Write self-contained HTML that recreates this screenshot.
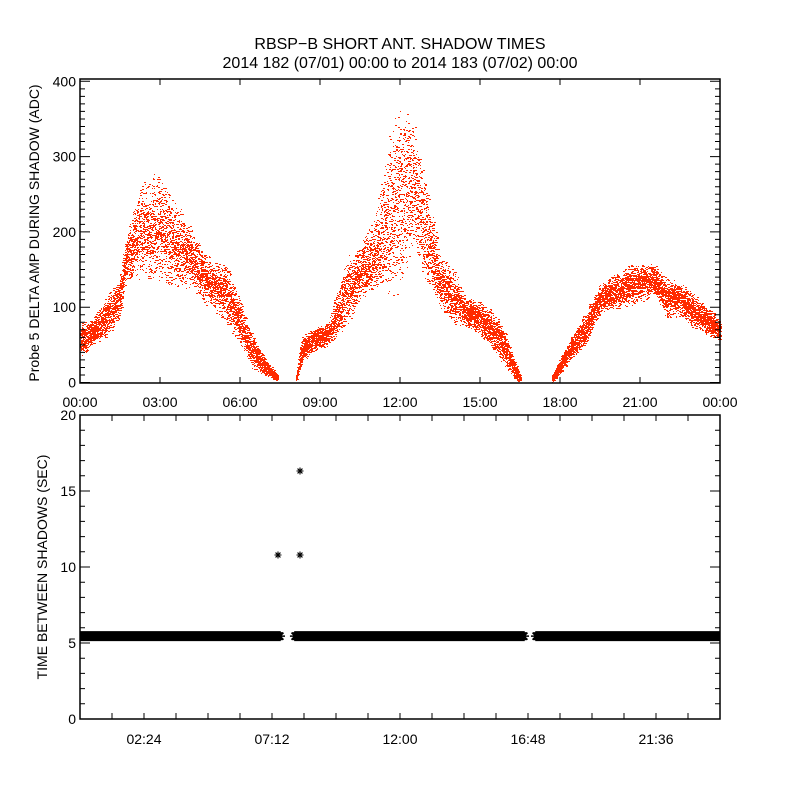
<!DOCTYPE html>
<html><head><meta charset="utf-8"><style>
html,body{margin:0;padding:0;background:#fff;}
svg{display:block;font-family:"Liberation Sans",sans-serif;}
text{fill:#000;}
</style></head><body>
<svg id="chart" width="800" height="800" viewBox="0 0 800 800">
<defs><clipPath id="botClip"><rect x="80" y="415" width="640" height="304"/></clipPath></defs>
<rect x="0" y="0" width="800" height="800" fill="#fff"/>
<text x="400" y="49" text-anchor="middle" font-size="16">RBSP−B SHORT ANT. SHADOW TIMES</text>
<text x="400" y="68" text-anchor="middle" font-size="16">2014 182 (07/01) 00:00 to 2014 183 (07/02) 00:00</text>
<g id="topPanel"></g>
<g id="botPanel"></g>
<text transform="translate(39,233) rotate(-90)" text-anchor="middle" font-size="14">Probe 5 DELTA AMP DURING SHADOW (ADC)</text>
<text transform="translate(47,567) rotate(-90)" text-anchor="middle" font-size="14">TIME BETWEEN SHADOWS (SEC)</text>
</svg>
<script>
// ---- top panel data: envelope of amplitude scatter (hours, low, high) ----
const envHours = [0,0.5,1,1.5,1.7,2,2.5,3,3.5,4,4.5,5,5.5,6,6.5,7,7.4, 8.1,8.3,8.7,9.3,9.6,10,10.5,11,11.5,12,12.5,13,13.5,14,14.5,15,15.5,16,16.3,16.5, 17.7,18,18.5,19,19.5,20,20.5,21,21.5,22,22.5,23,23.5,24];
const envLow   = [40,55,70,95,140,150,160,160,145,140,120,110,90,60,25,12,3, 2,30,45,55,70,90,120,140,150,160,200,150,110,90,80,70,50,25,8,2, 2,15,40,60,100,105,110,115,125,95,95,80,70,60];
const envHigh  = [70,80,105,135,180,220,250,250,225,205,170,150,145,100,55,25,10, 8,55,65,75,110,150,170,200,280,330,320,240,160,140,105,100,85,55,25,8, 8,30,60,90,125,135,145,150,150,130,125,110,95,80];
const segBreaks = [16, 36];
const topXTicks = ["00:00","03:00","06:00","09:00","12:00","15:00","18:00","21:00","00:00"];
const topYTicks = [0,100,200,300,400];
// ---- bottom panel data ----
const bandStart = [0, 8.06, 17.1];
const bandEnd   = [7.5, 16.65, 24];
const bandValue = [5.45, 5.45, 5.45];
const outTimes  = [7.43, 8.25, 8.25];
const outValues = [10.8, 16.3, 10.8];
const botXTicks = ["02:24","07:12","12:00","16:48","21:36"];
const botYTicks = [0,5,10,15,20];

const NS="http://www.w3.org/2000/svg";
function mk(tag,attrs,parent){const e=document.createElementNS(NS,tag);for(const k in attrs)e.setAttribute(k,attrs[k]);parent.appendChild(e);return e;}
const L=80,R=720;
const xS=h=>L+(R-L)*h/24;
const tT=79,tB=383; const yT=v=>382.5-v*0.753;
const bT=415,bB=719; const yB=v=>bB-(bB-bT)*v/20;

const topG=document.getElementById('topPanel'), botG=document.getElementById('botPanel');
function hsh(n){const s=Math.sin(n*12.9898+78.233)*43758.5453;return s-Math.floor(s);}

let d="";
let k=0;
for(let i=0;i<envHours.length-1;i++){
  if(segBreaks.includes(i)) continue;
  const h0=envHours[i],h1=envHours[i+1];
  const n=Math.round((h1-h0)*220);
  for(let j=0;j<n;j++){
    const t=j/n;
    const lo=envLow[i]+(envLow[i+1]-envLow[i])*t, hi=envHigh[i]+(envHigh[i+1]-envHigh[i])*t;
    for(let m=0;m<3;m++){
      k++;
      const h=h0+(h1-h0)*(j+hsh(k*3.1))/n;
      let f=(hsh(k)+hsh(k+0.5))/2;
      f=0.5+(f-0.5)*1.6;
      const v=lo+(hi-lo)*f;
      const x=Math.round(xS(h)), y=Math.round(yT(v));
      const w=hsh(k*1.7)<0.5?1:2;
      d+="M"+x+" "+y+"h"+w+"v1h-"+w+"z";
    }
  }
}
const sc=mk('path',{d:d,fill:'#ff2a00'},topG);



const tf=mk('rect',{x:L,y:tT,width:R-L,height:tB-tT,fill:'none',stroke:'#000','stroke-width':1.5},topG);


let tk="";
for(let i=0;i<topXTicks.length;i++){const x=L+i*80;tk+=`M${x} ${tB}v-6M${x} ${tT}v6`;}
for(let v=0;v<=400;v+=10){const y=yT(v);const len=(v%100===0)?10:5;tk+=`M${L} ${y}h${len}M${R} ${y}h-${len}`;}
const tkp=mk('path',{d:tk,stroke:'#000','stroke-width':1,fill:'none'},topG);


topXTicks.forEach((s,i)=>{const t=mk('text',{x:L+i*80,y:407,'text-anchor':'middle','font-size':14},topG);t.textContent=s;

});
topYTicks.forEach(v=>{const t=mk('text',{x:76,y:yT(v)+5,'text-anchor':'end','font-size':14},topG);t.textContent=v;

});

function star(x,y,r){return `M${x-r} ${y}h${2*r}M${x} ${y-r}v${2*r}M${x-r*0.7} ${y-r*0.7}l${1.4*r} ${1.4*r}M${x-r*0.7} ${y+r*0.7}l${1.4*r} ${-1.4*r}`;}
let bd="";
for(let s=0;s<bandStart.length;s++){
  for(let h=bandStart[s];h<=bandEnd[s];h+=0.01){
    bd+=star(xS(h),yB(bandValue[s]),5);
  }
}
const band=mk('path',{d:bd,stroke:'#000','stroke-width':1.5,fill:'none','clip-path':'url(#botClip)'},botG);


let od="";
for(let i=0;i<outTimes.length;i++) od+=star(Math.round(xS(outTimes[i])),Math.round(yB(outValues[i])),3.5);
const outp=mk('path',{d:od,stroke:'#000','stroke-width':1.1,fill:'none'},botG);



const bf=mk('rect',{x:L,y:bT,width:R-L,height:bB-bT,fill:'none',stroke:'#000','stroke-width':1.5},botG);


let bk="";
for(let i=1;i<20;i++){const x=L+i*32;bk+=`M${x} ${bB}v-6M${x} ${bT}v6`;}
for(let v=0;v<=20;v+=1){const y=yB(v);const len=(v%5===0)?10:5;bk+=`M${L} ${y}h${len}M${R} ${y}h-${len}`;}
const bkp=mk('path',{d:bk,stroke:'#000','stroke-width':1,fill:'none'},botG);


botXTicks.forEach((s,i)=>{const t=mk('text',{x:L+64+i*128,y:744,'text-anchor':'middle','font-size':14},botG);t.textContent=s;

});
botYTicks.forEach(v=>{const t=mk('text',{x:76,y:yB(v)+5,'text-anchor':'end','font-size':14},botG);t.textContent=v;

});
</script>
</body></html>
